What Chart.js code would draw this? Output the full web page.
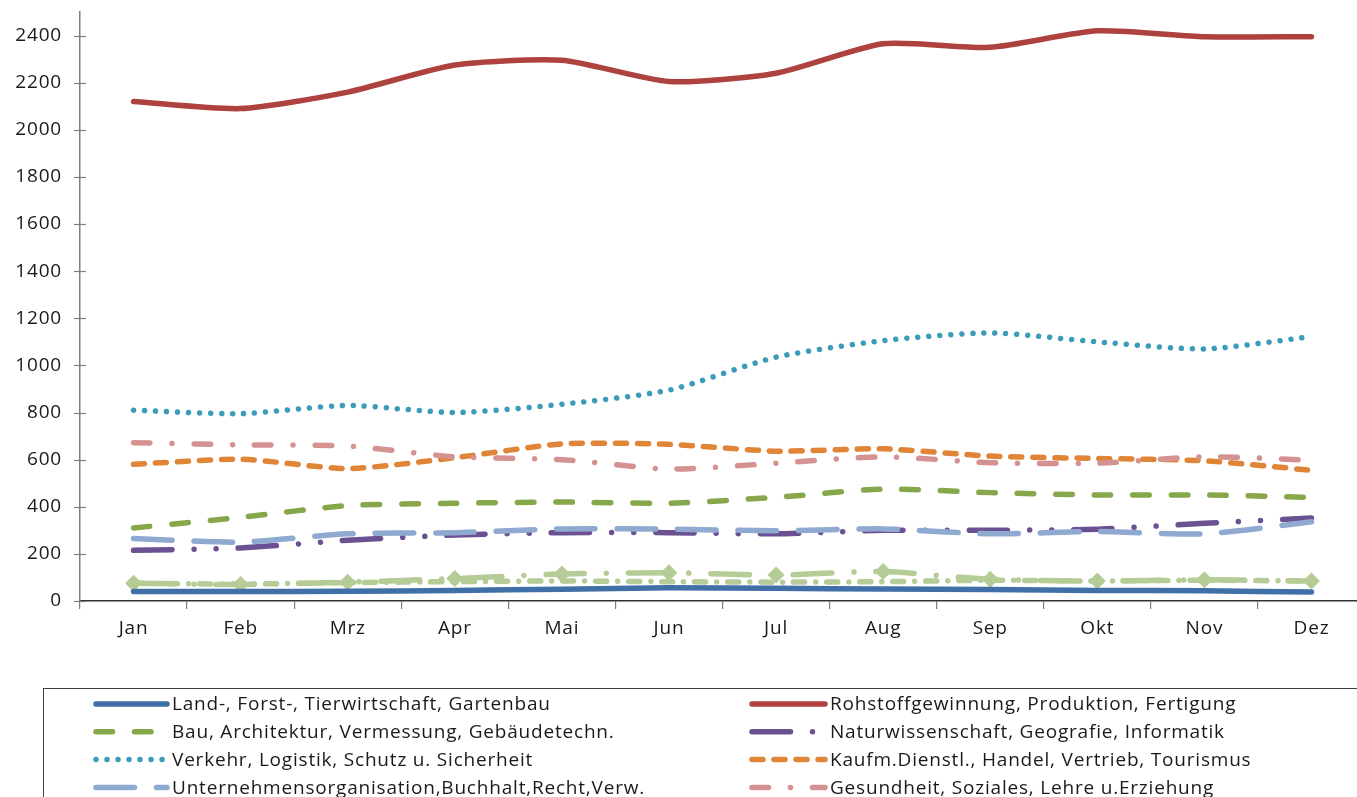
<!DOCTYPE html>
<html><head><meta charset="utf-8">
<script src="https://cdn.jsdelivr.net/npm/chart.js@4.4.1/dist/chart.umd.min.js"></script>
<style>
html,body{margin:0;padding:0;background:#fff;overflow:hidden;}
#wrap{position:relative;width:1380px;height:830px;}
</style></head><body>
<div id="wrap"><canvas id="c"></canvas></div>
<script>
// ---- data ----
const months = ['Jan','Feb','Mrz','Apr','Mai','Jun','Jul','Aug','Sep','Okt','Nov','Dez'];
const yTicks = [0,200,400,600,800,1000,1200,1400,1600,1800,2000,2200,2400];
const seriesNames = [
  'Land-, Forst-, Tierwirtschaft, Gartenbau',
  'Rohstoffgewinnung, Produktion, Fertigung',
  'Bau, Architektur, Vermessung, Gebäudetechn.',
  'Naturwissenschaft, Geografie, Informatik',
  'Verkehr, Logistik, Schutz u. Sicherheit',
  'Kaufm.Dienstl., Handel, Vertrieb, Tourismus',
  'Unternehmensorganisation,Buchhalt,Recht,Verw.',
  'Gesundheit, Soziales, Lehre u.Erziehung',
  'Geisteswiss., Medien, Kunst, Kultur, Gestaltung',
  'Militär'
];
const landForst    = [40, 40, 41, 45, 50, 56, 54, 51, 49, 45, 43, 38];
const rohstoff     = [2120, 2090, 2160, 2275, 2295, 2205, 2240, 2365, 2350, 2420, 2395, 2395];
const bau          = [310, 355, 405, 415, 420, 415, 440, 475, 460, 450, 450, 440];
const naturwiss    = [215, 225, 258, 280, 290, 290, 285, 300, 300, 305, 330, 352];
const verkehr      = [810, 795, 830, 800, 835, 895, 1035, 1105, 1138, 1100, 1070, 1122];
const kaufm        = [580, 602, 562, 608, 667, 665, 636, 646, 615, 605, 595, 555];
const unternehmen  = [265, 250, 285, 290, 306, 305, 298, 306, 285, 295, 285, 336];
const gesundheit   = [672, 663, 658, 612, 600, 560, 585, 612, 587, 585, 612, 598];
const geistes      = [75, 70, 80, 95, 115, 120, 110, 125, 92, 85, 90, 85];
const militaer     = [75, 72, 78, 82, 85, 82, 80, 82, 88, 85, 88, 85];

// ---- styles ----
const W = 5.5;
function dash(...u){ return u.map((v,i)=> i%2===0 ? Math.max(v*W - W, 0.01) : v*W + W); }
const FONT = "'Open Sans', sans-serif";
const SPACING = '0.8px';

function ds(label, data, color, bd, order, extra){
  return Object.assign({
    label, data, borderColor: color, backgroundColor: color,
    borderWidth: W, borderDash: bd, borderCapStyle: 'round', borderJoinStyle: 'round',
    pointRadius: 0, pointHoverRadius: 0, tension: 0.22, fill: false, order
  }, extra || {});
}

const datasets = [
  ds(seriesNames[0], landForst,   '#4170A8', [], 0),
  ds(seriesNames[1], rohstoff,    '#AE423F', [], 9),
  ds(seriesNames[2], bau,         '#86A84A', dash(4,3), 8),
  ds(seriesNames[3], naturwiss,   '#6B5092', dash(8,3,1,3,1,3), 7),
  ds(seriesNames[4], verkehr,     '#3A9CB8', dash(1,1), 6),
  ds(seriesNames[5], kaufm,       '#E08537', dash(3,1), 5),
  ds(seriesNames[6], unternehmen, '#8FA9D0', dash(8,3), 4),
  ds(seriesNames[7], gesundheit,  '#D49391', dash(4,3,1,3), 3),
  ds(seriesNames[8], geistes,     '#B5CC96', dash(8,3,1,3), 2,
     {pointRadius: 8.5, pointStyle: 'rectRot', pointBorderWidth: 0, pointBackgroundColor: '#B5CC96'}),
  ds(seriesNames[9], militaer,    '#B5CC96', dash(3,1,1,1), 1)
];

const spacing = {
  id: 'spacing',
  beforeLayout(chart){ chart.ctx.letterSpacing = SPACING; },
  beforeDraw(chart){ chart.ctx.letterSpacing = SPACING; }
};

const crossTicks = {
  id: 'crossTicks',
  afterDraw(chart){
    const ctx = chart.ctx, y = chart.scales.y, x0 = chart.chartArea.left;
    ctx.save(); ctx.strokeStyle = '#7f7f7f'; ctx.lineWidth = 1.2;
    yTicks.forEach(v => {
      const py = Math.round(y.getPixelForValue(v)) + 0.5;
      ctx.beginPath(); ctx.moveTo(x0 - 6, py); ctx.lineTo(x0 + 6, py); ctx.stroke();
    });
    ctx.restore();
  }
};

const boxLegend = {
  id: 'boxLegend',
  afterDraw(chart){
    const ctx = chart.ctx;
    ctx.save();
    ctx.strokeStyle = '#404040'; ctx.lineWidth = 1;
    ctx.strokeRect(43.5, 688.5, 1400, 200);
    const cols = [{s: 96, e: 167, t: 172}, {s: 752, e: 825, t: 830}];
    const rowY0 = 704, rowH = 27.8;
    ctx.font = "19px " + FONT; ctx.fillStyle = '#1a1a1a'; ctx.textBaseline = 'middle';
    ctx.letterSpacing = SPACING;
    chart.data.datasets.forEach((d, i) => {
      const c = cols[i % 2], y = rowY0 + Math.floor(i / 2) * rowH;
      ctx.save();
      ctx.strokeStyle = d.borderColor; ctx.lineWidth = d.borderWidth; ctx.lineCap = 'round';
      ctx.setLineDash(d.borderDash || []);
      ctx.beginPath(); ctx.moveTo(c.s, y); ctx.lineTo(c.e, y); ctx.stroke();
      ctx.setLineDash([]);
      if (d.pointRadius > 0) {
        const r = d.pointRadius, mx = (c.s + c.e) / 2;
        ctx.fillStyle = d.borderColor;
        ctx.beginPath(); ctx.moveTo(mx, y - r); ctx.lineTo(mx + r, y); ctx.lineTo(mx, y + r); ctx.lineTo(mx - r, y); ctx.closePath(); ctx.fill();
      }
      ctx.restore();
      ctx.fillText(d.label, c.t, y + 1);
    });
    ctx.restore();
  }
};

new Chart(document.getElementById('c'), {
  type: 'line',
  data: { labels: months, datasets },
  options: {
    responsive: true, maintainAspectRatio: false, animation: false,
    layout: { padding: { top: 12, right: 15, left: 0, bottom: 0 } },
    plugins: { legend: { display: false }, tooltip: { enabled: false } },
    scales: {
      x: {
        type: 'category', offset: true,
        grid: { offset: true, drawOnChartArea: false, drawTicks: true, tickLength: 8, color: '#7f7f7f', lineWidth: 1.2 },
        border: { display: true, color: '#303030', width: 1.5 },
        ticks: { color: '#1a1a1a', font: { family: FONT, size: 19 }, padding: 8, maxRotation: 0, autoSkip: false },
        afterFit: s => { s.height = 229; s.paddingLeft = 0; s.paddingRight = 0; }
      },
      y: {
        min: 0, max: 2500,
        afterBuildTicks: s => { s.ticks = yTicks.map(v => ({ value: v })); },
        grid: { drawOnChartArea: false, drawTicks: false },
        border: { display: true, color: '#7f7f7f', width: 1.5 },
        ticks: { color: '#1a1a1a', font: { family: FONT, size: 19 }, padding: 18, callback: v => String(v) },
        afterFit: s => { s.width = 80; s.paddingTop = 0; s.paddingBottom = 0; }
      }
    }
  },
  plugins: [spacing, crossTicks, boxLegend]
});
</script>
</body></html>
